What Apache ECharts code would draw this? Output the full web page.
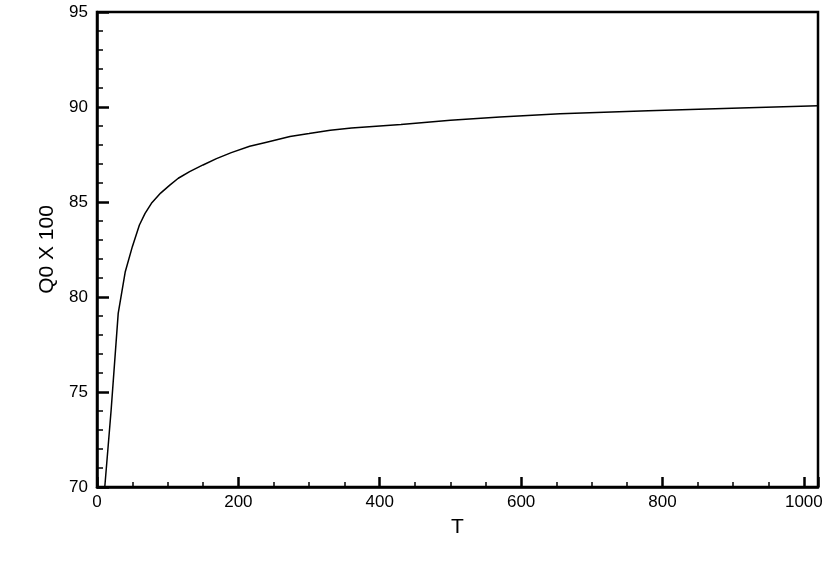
<!DOCTYPE html>
<html>
<head>
<meta charset="utf-8">
<script src="https://cdn.jsdelivr.net/npm/echarts@6/dist/echarts.min.js"></script>
<style>
  html, body { margin: 0; padding: 0; background: #fff; }
  #chart { width: 830px; height: 586px; }
</style>
</head>
<body>
<div id="chart"></div>
<script>
// values
var tValues = [11, 20, 30, 40, 50, 60, 68, 77, 90, 103, 115, 131, 150, 169, 190, 216, 240, 273, 300, 330, 360, 430, 500, 570, 655, 780, 910, 1020];
var qValues = [70.0, 74.05, 79.14, 81.33, 82.65, 83.79, 84.4, 84.93, 85.47, 85.89, 86.25, 86.6, 86.95, 87.28, 87.6, 87.93, 88.15, 88.45, 88.6, 88.78, 88.9, 89.08, 89.3, 89.48, 89.65, 89.8, 89.95, 90.07];

var xTicks = { min: 0, max: 1020, interval: 200 };
var yTicks = { min: 70, max: 95, interval: 5 };

var seriesData = tValues.map(function (t, i) {
  return [t, qValues[i]];
});

var chart = echarts.init(document.getElementById("chart"));

var labelStyle = {
  color: "#000",
  fontFamily: "Liberation Sans",
  fontSize: 17
};

var nameStyle = {
  color: "#000",
  fontFamily: "Liberation Sans",
  fontSize: 21
};

var option = {
  animation: false,
  backgroundColor: "#fff",
  grid: {
    left: 97,
    right: 12,
    top: 12,
    bottom: 99,
    show: true,
    borderColor: "#000",
    borderWidth: 2.5,
    backgroundColor: "transparent"
  },
  xAxis: {
    type: "value",
    min: xTicks.min,
    max: xTicks.max,
    interval: xTicks.interval,
    name: "T",
    nameLocation: "middle",
    nameGap: 30,
    nameTextStyle: nameStyle,
    axisLine: { show: true, lineStyle: { color: "#000", width: 2.5 } },
    axisTick: { show: true, inside: true, length: 10, lineStyle: { color: "#000", width: 2.5 } },
    minorTick: { show: true, splitNumber: 4, length: 5, lineStyle: { color: "#000", width: 1.5 } },
    axisLabel: Object.assign({
      margin: 7,
      showMaxLabel: false,
      formatter: function (v) { return String(v); }
    }, labelStyle),
    splitLine: { show: false }
  },
  yAxis: {
    type: "value",
    min: yTicks.min,
    max: yTicks.max,
    interval: yTicks.interval,
    name: "Q0 X 100",
    nameLocation: "middle",
    nameGap: 35,
    nameTextStyle: nameStyle,
    axisLine: { show: true, lineStyle: { color: "#000", width: 2.5 } },
    axisTick: { show: true, inside: true, length: 12, lineStyle: { color: "#000", width: 2.5 } },
    minorTick: { show: true, splitNumber: 5, length: 6, lineStyle: { color: "#000", width: 1.5 } },
    axisLabel: Object.assign({ margin: 9 }, labelStyle),
    splitLine: { show: false }
  },
  series: [
    {
      type: "line",
      data: seriesData,
      showSymbol: false,
      smooth: false,
      lineStyle: { color: "#000", width: 1.5 },
      clip: true
    }
  ]
};

chart.setOption(option);
</script>
</body>
</html>
